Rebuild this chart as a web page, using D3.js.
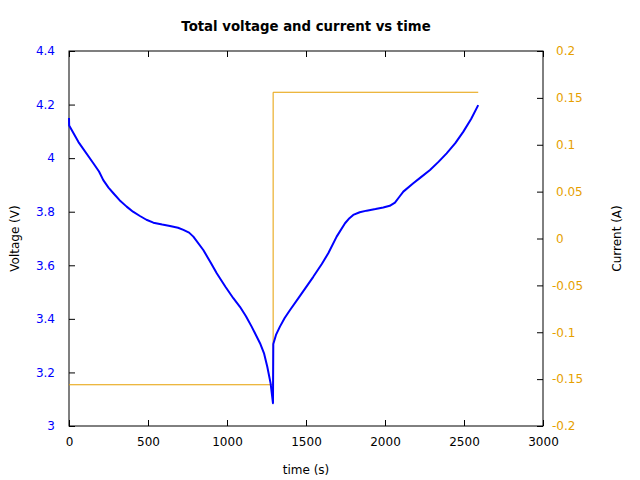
<!DOCTYPE html>
<html>
<head>
<meta charset="utf-8">
<script src="https://cdn.jsdelivr.net/npm/d3@7"></script>
<style>
    body { margin: 0; background: #fff; }
    text { font-family: "DejaVu Sans", sans-serif; font-size: 12px; }
</style>
</head>
<body>
<svg id="chart" width="640" height="480"></svg>
<script>
// Voltage trace (time in s, voltage in V)
var time_v = [0, 1, 60, 154, 190, 217, 250, 281, 320, 365, 405, 449, 490, 534, 590, 639, 690, 724, 760, 787, 850, 900, 935, 990, 1040, 1082, 1120, 1156, 1209, 1235, 1255, 1276, 1291,
    1293, 1310, 1335, 1365, 1399, 1462, 1546, 1600, 1641, 1694, 1747, 1775, 1799, 1840, 1884, 1940, 1989, 2030, 2063, 2090, 2116, 2179, 2230, 2285, 2340, 2390, 2445, 2496, 2545, 2590];
var voltage = [4.15, 4.122, 4.06, 3.981, 3.95, 3.918, 3.89, 3.869, 3.843, 3.819, 3.8, 3.784, 3.77, 3.759, 3.752, 3.747, 3.74, 3.732, 3.722, 3.707, 3.657, 3.607, 3.570, 3.52, 3.477, 3.445, 3.41, 3.371, 3.309, 3.27, 3.221, 3.159, 3.085,
    3.306, 3.34, 3.371, 3.403, 3.433, 3.486, 3.557, 3.605, 3.645, 3.707, 3.757, 3.776, 3.788, 3.798, 3.804, 3.81, 3.816, 3.822, 3.834, 3.855, 3.875, 3.906, 3.930, 3.956, 3.987, 4.018, 4.056, 4.099, 4.146, 4.198];

// Current trace (step at the switch from discharge to charge)
var time_i = [0, 1292, 1292, 2590];
var current = [-0.156, -0.156, 0.156, 0.156];

var x_ticks = [0, 500, 1000, 1500, 2000, 2500, 3000];
var v_ticks = [3, 3.2, 3.4, 3.6, 3.8, 4, 4.2, 4.4];
var i_ticks = [-0.2, -0.15, -0.1, -0.05, 0, 0.05, 0.1, 0.15, 0.2];

var margin = { top: 51, right: 97, bottom: 54, left: 69 };
var width = 640 - margin.left - margin.right;
var height = 480 - margin.top - margin.bottom;

var blue = "#0000ff";
var orange = "#e69f00";

var svg = d3.select("#chart");
var g = svg.append("g")
    .attr("transform", "translate(" + margin.left + "," + margin.top + ")");

var x = d3.scaleLinear().domain([0, 3000]).range([0, width]);
var yv = d3.scaleLinear().domain([3, 4.4]).range([height, 0]);
var yi = d3.scaleLinear().domain([-0.2, 0.2]).range([height, 0]);

// Axes with inward ticks
function style_axis(sel, color) {
    sel.select(".domain").remove();
    sel.attr("font-size", null).attr("font-family", null);
    sel.selectAll(".tick line").attr("stroke", "#000");
    sel.selectAll(".tick text").attr("fill", color);
}

g.append("g")
    .attr("transform", "translate(0," + height + ")")
    .call(d3.axisBottom(x).tickValues(x_ticks).tickSize(-6).tickPadding(11).tickFormat(d3.format("d")))
    .call(style_axis, "#000");

g.append("g")
    .call(d3.axisTop(x).tickValues(x_ticks).tickSize(-6).tickFormat(""))
    .call(style_axis, "#000");

g.append("g")
    .call(d3.axisLeft(yv).tickValues(v_ticks).tickSize(-6).tickPadding(14).tickFormat(d => d3.format("~g")(d)))
    .call(style_axis, blue);

var right_axis = g.append("g")
    .attr("transform", "translate(" + width + ",0)")
    .call(d3.axisRight(yi).tickValues(i_ticks).tickSize(-6).tickPadding(13).tickFormat(d => d3.format("~g")(d)))
    .call(style_axis, orange);

// negative labels hang the minus sign to the left
right_axis.selectAll(".tick text")
    .attr("x", d => d < 0 ? 9 : 13)
    .text(d => d < 0 ? "-" + d3.format("~g")(-d) : d3.format("~g")(d));

// Frame
g.append("rect")
    .attr("width", width)
    .attr("height", height)
    .attr("fill", "none")
    .attr("stroke", "#000")
    .attr("stroke-width", 1);

// Lines
var line_i = d3.line()
    .x((d, i) => x(time_i[i]))
    .y(d => yi(d));

g.append("path")
    .datum(current)
    .attr("fill", "none")
    .attr("stroke", orange)
    .attr("stroke-width", 1)
    .attr("d", line_i);

var line_v = d3.line()
    .x((d, i) => x(time_v[i]))
    .y(d => yv(d));

g.append("path")
    .datum(voltage)
    .attr("fill", "none")
    .attr("stroke", blue)
    .attr("stroke-width", 2)
    .attr("stroke-linejoin", "round")
    .attr("d", line_v);

// Titles
svg.append("text")
    .attr("x", margin.left + width / 2)
    .attr("y", 31)
    .attr("text-anchor", "middle")
    .style("font-weight", "bold")
    .style("font-size", "13.3px")
    .text("Total voltage and current vs time");

svg.append("text")
    .attr("x", margin.left + width / 2)
    .attr("y", 474)
    .attr("text-anchor", "middle")
    .text("time (s)");

svg.append("text")
    .attr("transform", "translate(19," + (margin.top + height / 2) + ") rotate(-90)")
    .attr("text-anchor", "middle")
    .text("Voltage (V)");

svg.append("text")
    .attr("transform", "translate(621," + (margin.top + height / 2) + ") rotate(-90)")
    .attr("text-anchor", "middle")
    .text("Current (A)");
</script>
</body>
</html>
